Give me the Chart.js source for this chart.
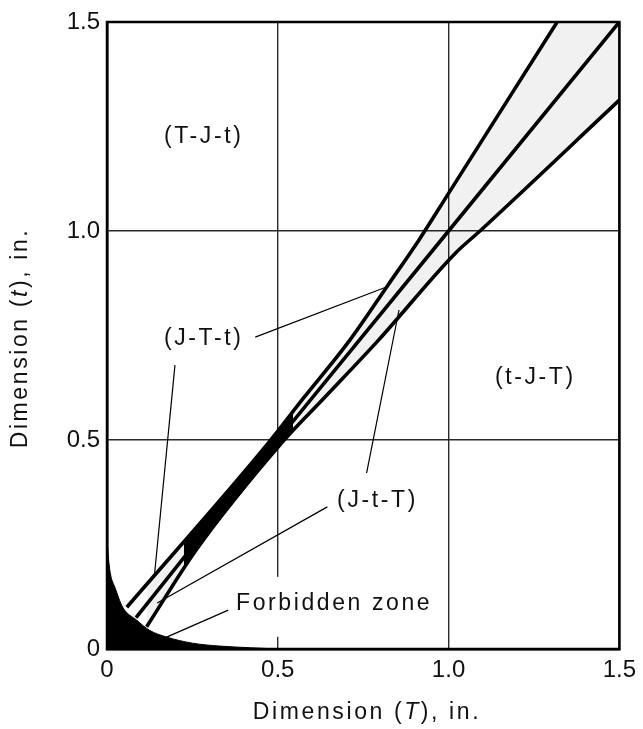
<!DOCTYPE html>
<html>
<head>
<meta charset="utf-8">
<script src="https://cdn.jsdelivr.net/npm/chart.js@4.4.1/dist/chart.umd.min.js"></script>
<style>
html, body { margin: 0; padding: 0; background: #fff; }
</style>
</head>
<body>
<canvas id="chartCanvas" width="643" height="729"></canvas>
<script>
// tick values, both axes (in.)
let tickValues = [0, 0.5, 1.0, 1.5];

// boundary lines: T along x, t along y
let upperT = [0.058, 0.4715, 0.575, 0.711, 0.823, 0.913, 1.0, 1.318, 1.5];
let upperY = [0.10, 0.492, 0.6, 0.739, 0.871, 0.978, 1.09, 1.5, 1.733];
let middleT = [0.085, 0.5, 1.0, 1.5];
let middleY = [0.075, 0.5, 1.0, 1.5];
let lowerT = [0.116, 0.261, 0.5135, 0.635, 0.795, 1.02, 1.092, 1.5];
let lowerY = [0.053, 0.237, 0.495, 0.6, 0.739, 0.947, 1.0, 1.313];

// solid stretch where the lines run together
let bandT = [0.225, 0.3, 0.4, 0.5, 0.545];
let bandTop = [0.258, 0.329, 0.424, 0.52, 0.568];
let bandBottom = [0.192, 0.277, 0.379, 0.481, 0.522];

// forbidden zone edge
let zoneT = [0, 0.004, 0.01, 0.023, 0.046, 0.087, 0.124, 0.173, 0.25, 0.33, 0.42, 0.5];
let zoneY = [0.27, 0.22, 0.18, 0.148, 0.10, 0.069, 0.045, 0.029, 0.014, 0.007, 0.003, 0];

// region labels
let labelText = ['(T-J-t)', '(t-J-T)', '(J-T-t)', '(J-t-T)', 'Forbidden zone'];
let labelT = [0.283, 1.254, 0.283, 0.792, 0.665];
let labelY = [1.225, 0.648, 0.742, 0.356, 0.108];

// leader lines from labels
let leaderFromT = [0.434, 0.199, 0.760, 0.645, 0.355];
let leaderFromY = [0.746, 0.679, 0.421, 0.340, 0.093];
let leaderToT = [0.818, 0.139, 0.855, 0.147, 0.168];
let leaderToY = [0.866, 0.177, 0.811, 0.110, 0.026];

const FONT = "'Liberation Sans', Arial, Helvetica, sans-serif";
const SPACING = '2.6px';

let pts = function (xs, ys) {
    return xs.map((x, i) => ({x: x, y: ys[i]}));
};

let lineSet = function (xs, ys, width) {
    return {
        data: pts(xs, ys),
        borderColor: '#000',
        borderWidth: width,
        pointRadius: 0,
        tension: 0,
        fill: false
    };
};

let datasets = [];
// 0 forbidden zone
datasets.push({
    data: pts(zoneT, zoneY),
    borderColor: '#000',
    borderWidth: 1,
    backgroundColor: '#000',
    pointRadius: 0,
    cubicInterpolationMode: 'monotone',
    fill: 'origin'
});
// 1, 2 band edges, filled black between
datasets.push(lineSet(bandT, bandTop, 0));
let bandLow = lineSet(bandT, bandBottom, 0);
bandLow.fill = {target: 1};
bandLow.backgroundColor = '#000';
datasets.push(bandLow);
// 3 upper, 4 middle, 5 lower (shaded up to upper)
let upper = lineSet(upperT, upperY, 3.6);
upper.cubicInterpolationMode = 'monotone';
datasets.push(upper);
datasets.push(lineSet(middleT, middleY, 3.6));
let lower = lineSet(lowerT, lowerY, 3.6);
lower.cubicInterpolationMode = 'monotone';
lower.fill = {target: 3};
lower.backgroundColor = 'rgba(0,0,0,0.055)';
datasets.push(lower);
// leaders
leaderFromT.forEach(function (v, i) {
    datasets.push(lineSet([v, leaderToT[i]], [leaderFromY[i], leaderToY[i]], 1.2));
});

let drawMixed = function (ctx, parts, cx, cy) {
    let fontFor = it => (it ? 'italic ' : '') + '23px ' + FONT;
    let widths = parts.map(p => { ctx.font = fontFor(p[1]); return ctx.measureText(p[0]).width; });
    let total = widths.reduce((a, b) => a + b, 0);
    let x = cx - total / 2;
    ctx.textAlign = 'left';
    ctx.textBaseline = 'middle';
    parts.forEach(function (p, i) {
        ctx.font = fontFor(p[1]);
        ctx.fillText(p[0], x, cy);
        x += widths[i];
    });
};

let extras = {
    id: 'extras',
    beforeDraw: function (chart) {
        chart.ctx.letterSpacing = '0px';
    },
    beforeDatasetsDraw: function (chart) {
        // white patch behind "Forbidden zone" breaks the 0.5 grid line
        let ctx = chart.ctx;
        let xs = chart.scales.x, ys = chart.scales.y;
        let i = labelText.length - 1;
        ctx.save();
        ctx.letterSpacing = SPACING;
        ctx.font = '23px ' + FONT;
        let w = ctx.measureText(labelText[i]).width;
        let cx = xs.getPixelForValue(labelT[i]), cy = ys.getPixelForValue(labelY[i]);
        ctx.fillStyle = '#fff';
        ctx.fillRect(cx - w / 2 - 4, cy - 27, w + 8, 60);
        ctx.restore();
    },
    afterDatasetsDraw: function (chart) {
        let ctx = chart.ctx;
        let a = chart.chartArea;
        let xs = chart.scales.x, ys = chart.scales.y;
        ctx.save();
        ctx.strokeStyle = '#000';
        ctx.lineWidth = 2.5;
        ctx.strokeRect(a.left, a.top, a.right - a.left, a.bottom - a.top);

        ctx.fillStyle = '#111';
        ctx.letterSpacing = SPACING;
        ctx.font = '23px ' + FONT;
        ctx.textAlign = 'center';
        ctx.textBaseline = 'middle';
        labelText.forEach(function (s, i) {
            ctx.fillText(s, xs.getPixelForValue(labelT[i]), ys.getPixelForValue(labelY[i]));
        });

        drawMixed(ctx, [['Dimension (', false], ['T', true], ['), in.', false]], 367, 713);
        ctx.translate(21, 338);
        ctx.rotate(-Math.PI / 2);
        drawMixed(ctx, [['Dimension (', false], ['t', true], ['), in.', false]], 0, 0);
        ctx.restore();
    }
};

let axisOpts = function (pos) {
    return {
        type: 'linear',
        position: pos,
        min: 0,
        max: 1.5,
        afterBuildTicks: function (scale) {
            scale.ticks = tickValues.map(v => ({value: v}));
        },
        afterFit: function (scale) {
            if (pos === 'bottom') scale.height = 80;
            else scale.width = 107;
        },
        ticks: {
            color: '#111',
            padding: 7,
            font: {family: FONT, size: 24},
            callback: v => (v === 0 ? '0' : v.toFixed(1))
        },
        grid: {color: '#2a2a2a', lineWidth: 1.4, drawTicks: false},
        border: {display: true, color: '#000', width: 2.5}
    };
};

let ctx = document.getElementById('chartCanvas').getContext('2d');
window.joinChart = new Chart(ctx, {
    type: 'line',
    data: {datasets: datasets},
    options: {
        responsive: false,
        animation: false,
        layout: {padding: {top: 22, right: 19, left: 0, bottom: 0}},
        plugins: {
            legend: {display: false},
            tooltip: {enabled: false}
        },
        scales: {
            x: axisOpts('bottom'),
            y: axisOpts('left')
        }
    },
    plugins: [extras]
});
</script>
</body>
</html>
